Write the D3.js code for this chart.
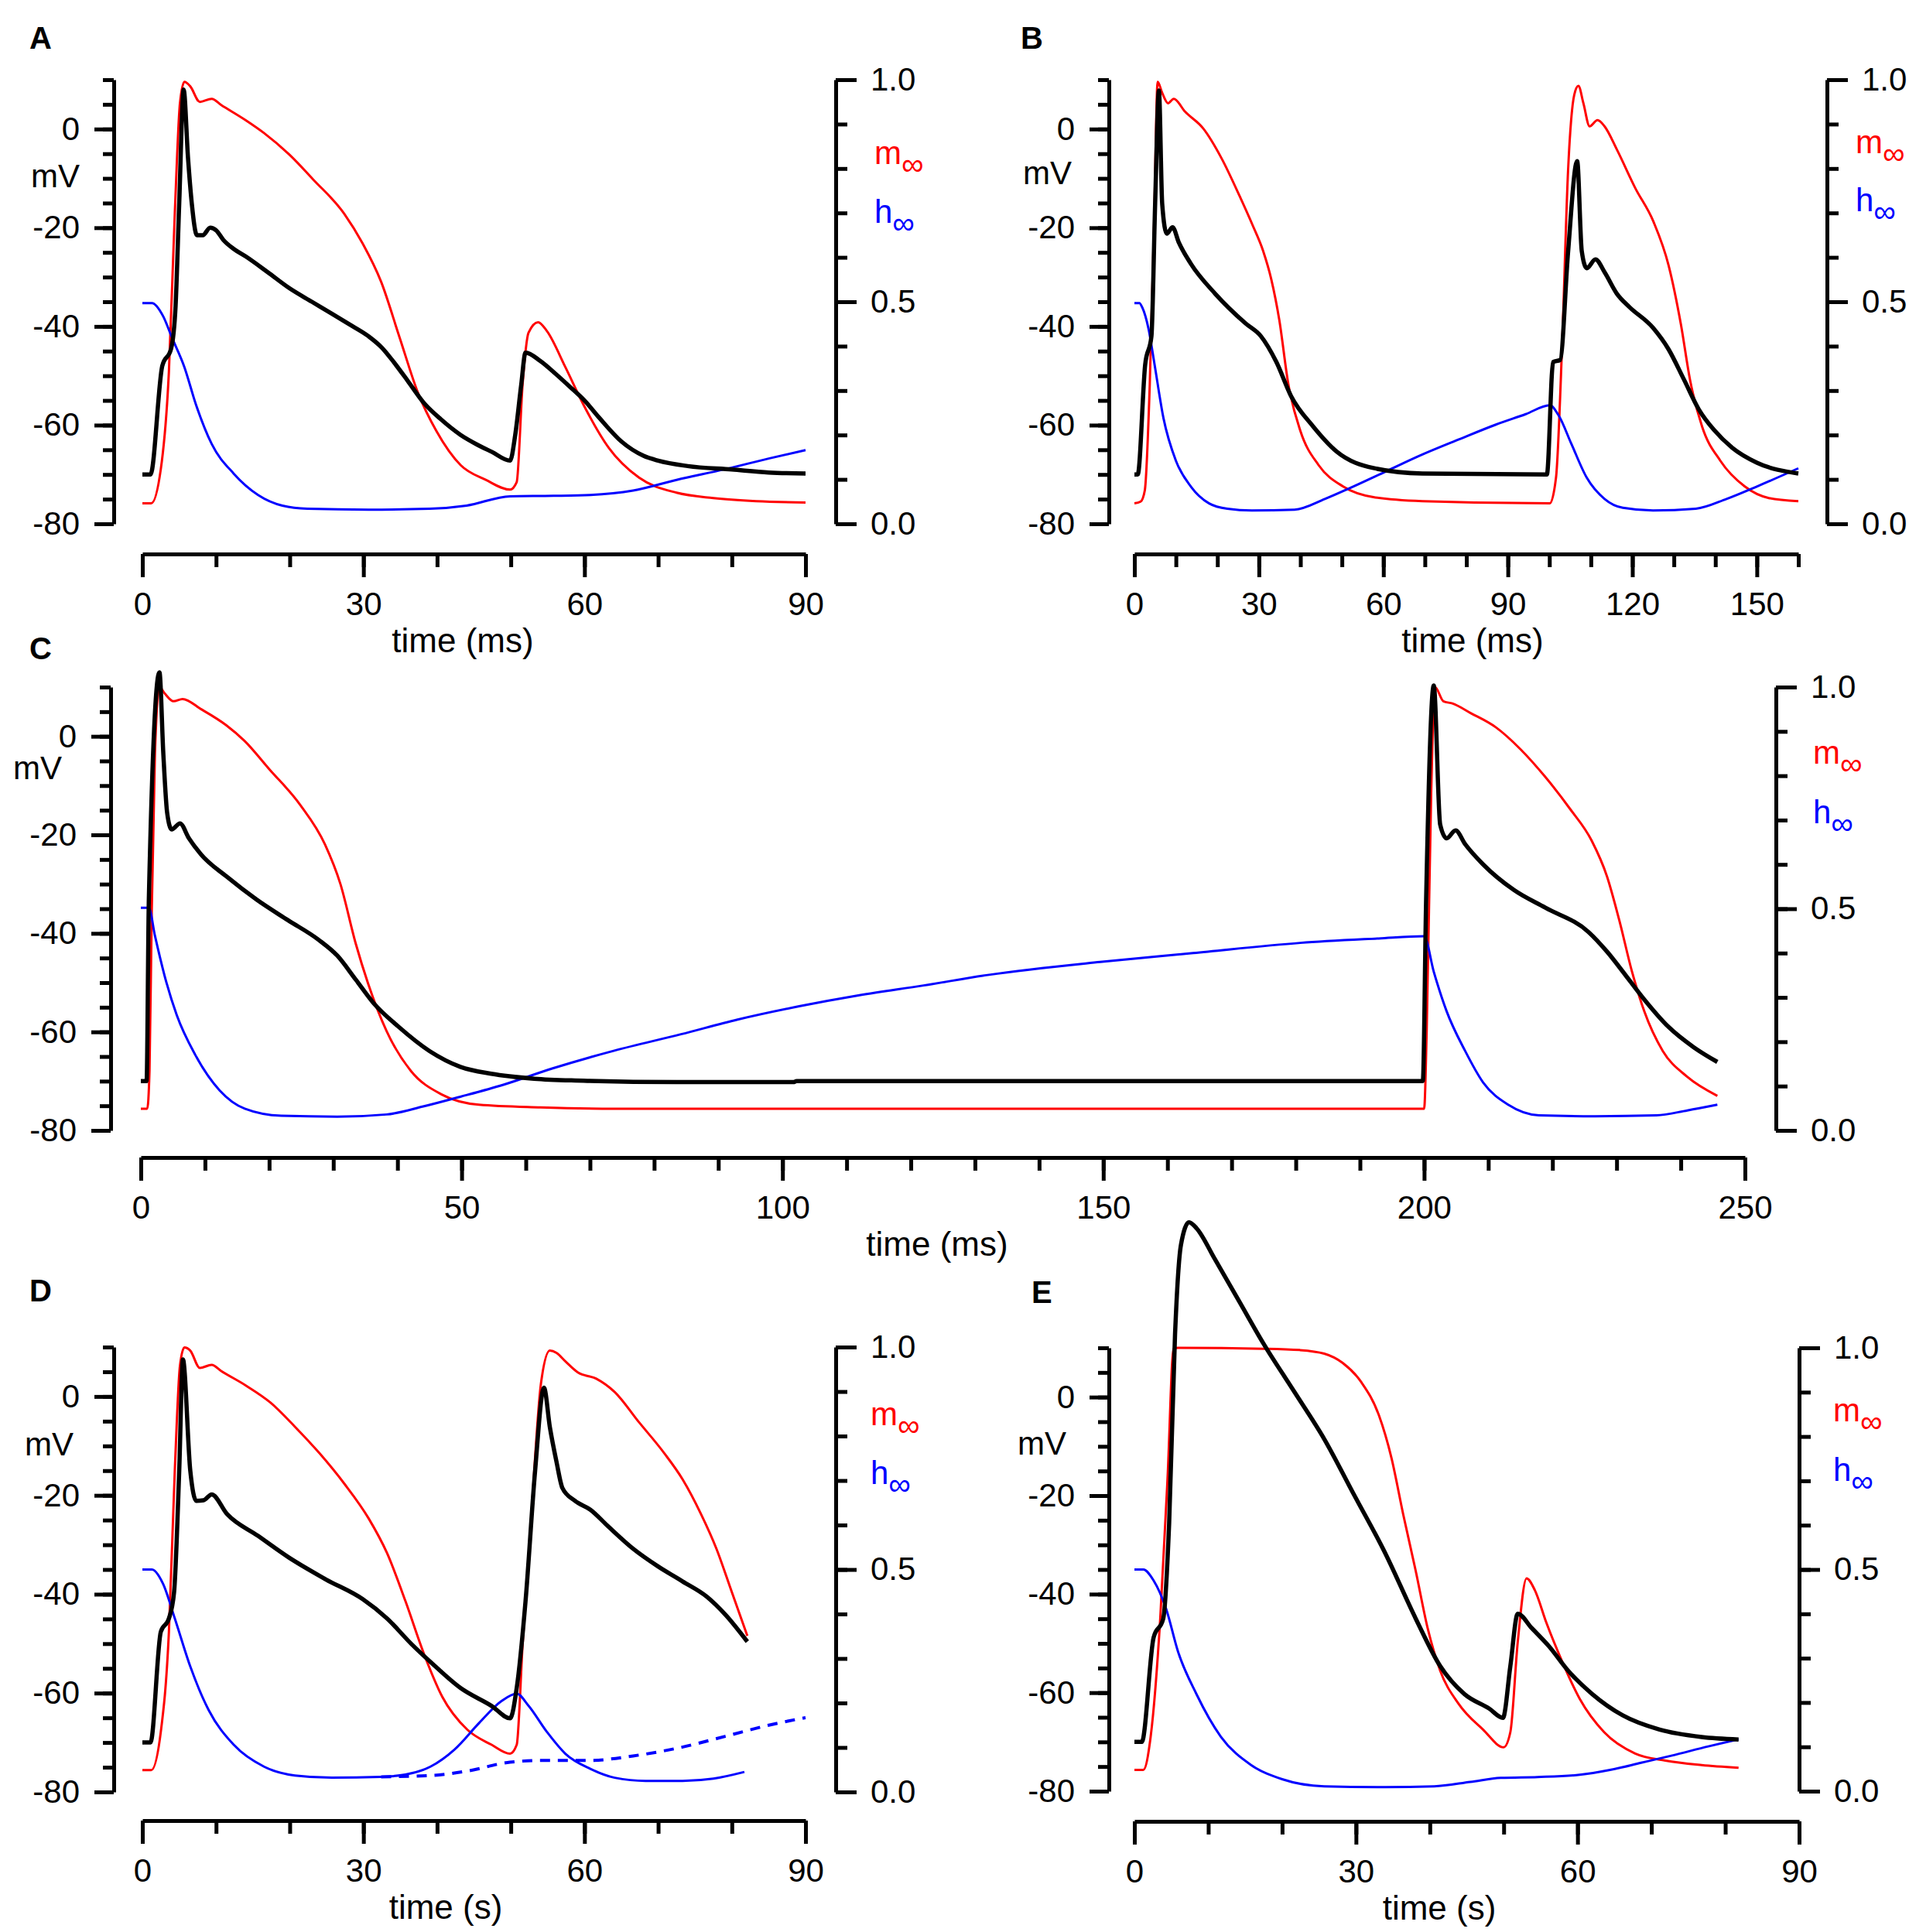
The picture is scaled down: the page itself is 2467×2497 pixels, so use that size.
<!DOCTYPE html>
<html>
<head>
<meta charset="utf-8">
<script src="https://cdnjs.cloudflare.com/ajax/libs/d3/7.8.5/d3.min.js"></script>
<style>
body { margin: 0; background: #fff; }
svg { display: block; font-family: "Liberation Sans", Arial, sans-serif; }
</style>
</head>
<body>
<svg id="fig" width="2467" height="2497"></svg>
<script>
// tick values
const mvMajor = [-80, -60, -40, -20, 0];
const mvMinor = d3.range(-80, 11, 5);
const fracMajor = [0, 0.5, 1.0];
const fracMinor = d3.range(0, 1.01, 0.1);
const tTicksA = [0, 30, 60, 90];
const tTicksB = [0, 30, 60, 90, 120, 150];
const tTicksC = [0, 50, 100, 150, 200, 250];

// panel A: [time, value]
const aV = [[0,-70],[1.1,-70],[2.7,-48],[3.9,-44.5],[4.5,-36],[5.0,-15],[5.6,8],[6.2,-6],[6.7,-15],[7.4,-21.5],[8.2,-21.5],[9.2,-20],[10,-20.5],[11,-22.5],[12.4,-24.3],[14,-25.8],[17,-29],[20,-32.3],[23,-35],[25.7,-37.4],[28,-39.5],[30.7,-42],[32.5,-44.3],[34.1,-47.2],[36,-51],[38.2,-55.5],[40.5,-58.8],[43.2,-62],[45.5,-64],[47.4,-65.4],[49.9,-67.2],[50.6,-62],[51.4,-52],[52,-45.3],[54,-47],[56,-49.5],[58,-52.2],[60,-55],[62,-58.5],[65,-63.3],[68,-66.2],[70,-67.2],[74,-68.3],[80,-69],[85,-69.6],[90,-69.8]];
const aM = [[0,0.046],[1.2,0.046],[2.5,0.123],[3.6,0.343],[4.4,0.70],[5.1,0.947],[5.7,0.995],[6.5,0.985],[7.8,0.95],[9.4,0.957],[10.7,0.943],[14,0.909],[16.5,0.88],[19.9,0.832],[23.2,0.775],[27.4,0.698],[29.9,0.631],[32.4,0.545],[34.9,0.42],[37.4,0.295],[39.9,0.209],[43.2,0.132],[46.6,0.099],[49.9,0.077],[50.8,0.094],[51.6,0.314],[52.4,0.43],[53.7,0.454],[54.9,0.434],[57.4,0.353],[59.9,0.267],[63.3,0.171],[67.4,0.104],[72.5,0.07],[77.5,0.058],[83.3,0.051],[90,0.048]];
const aH = [[0,0.497],[1.3,0.497],[2.8,0.468],[4,0.42],[5.7,0.353],[7.3,0.267],[9.4,0.18],[12.4,0.113],[15.7,0.065],[19,0.041],[22.4,0.034],[30.7,0.032],[39,0.034],[44,0.041],[49.9,0.062],[55.8,0.063],[60.8,0.065],[66.6,0.075],[72.5,0.099],[79.1,0.123],[85,0.147],[90,0.166]];

// panel B
const bV = [[0,-70],[0.8,-70],[2.6,-47.7],[4.1,-42],[5.0,-15],[5.9,7.8],[6.7,-15.2],[7.8,-21.2],[9.2,-19.9],[10.7,-23],[13.6,-27.3],[19.5,-33.4],[26.8,-39.4],[30.5,-42],[34.2,-47.2],[37.8,-54.2],[43,-60.2],[48.8,-65.4],[57.6,-68.7],[69.4,-69.8],[99.4,-70],[100.9,-47.2],[102.6,-46.8],[104.5,-25],[106.7,-6.5],[107.8,-24.7],[109,-28.2],[111.1,-26.4],[113.3,-29],[116.3,-33.4],[119.2,-36],[125,-40.3],[128.7,-44.6],[132.4,-50.7],[136,-56.8],[139.7,-61],[144.1,-64.6],[150,-67.6],[160,-69.8]];
const bM = [[0,0.046],[1.5,0.05],[2.5,0.075],[3.7,0.314],[4.8,0.70],[5.6,0.995],[6.7,0.97],[8.1,0.947],[9.5,0.957],[12.2,0.928],[16.6,0.89],[21,0.823],[25.4,0.737],[28.5,0.672],[31,0.615],[33,0.55],[34.9,0.46],[37.1,0.314],[40,0.209],[44.4,0.132],[50.3,0.084],[57.6,0.06],[69.4,0.051],[100.1,0.046],[101.6,0.104],[103.1,0.41],[104.5,0.794],[106,0.966],[107,0.986],[108.2,0.947],[109.7,0.895],[111.6,0.909],[113.3,0.895],[116.3,0.842],[120.7,0.756],[125.1,0.68],[128.7,0.583],[131.7,0.449],[133.9,0.324],[136.8,0.219],[141.2,0.142],[147.1,0.084],[152.9,0.058],[160,0.051]];
const bH = [[0,0.497],[1.2,0.497],[1.9,0.487],[3.4,0.439],[4.8,0.362],[7,0.238],[10,0.142],[13.6,0.084],[18,0.046],[22.4,0.034],[28.3,0.03],[38.6,0.032],[45.9,0.056],[51.8,0.08],[60.6,0.118],[69.4,0.156],[78.2,0.19],[87,0.223],[94.3,0.247],[100.1,0.267],[102.3,0.243],[105.3,0.18],[109,0.104],[113.3,0.056],[117.7,0.036],[125,0.03],[135.3,0.034],[142.7,0.056],[150,0.084],[160,0.125]];

// panel C
const cV = [[0,-70],[0.9,-70],[1.25,-33],[2.9,13],[3.5,-3.4],[4.1,-15.5],[4.8,-18.9],[6.1,-17.7],[7.5,-20.7],[9.4,-24],[13.3,-28.4],[18.1,-33.2],[22.9,-37.3],[27.7,-41.3],[30.6,-44.5],[33.5,-49.4],[36.3,-54.2],[40.2,-59],[45,-63.9],[49.8,-67.1],[54.6,-68.5],[61.3,-69.5],[69,-69.9],[83.5,-70.2],[101.7,-70.2],[102.2,-70],[199.8,-70],[200.3,-34],[201.5,10.3],[202.5,-17.9],[203.5,-20.7],[204.9,-19.1],[206.4,-21.9],[209.2,-26],[214,-31.2],[218.9,-34.8],[225.6,-39.7],[228.5,-43.7],[231.4,-48.5],[234.3,-53.4],[238.1,-59],[242,-63.1],[245.7,-66.1]];
const cM = [[0,0.049],[1.0,0.049],[1.35,0.134],[1.7,0.493],[2.2,0.851],[2.9,1.0],[3.7,0.986],[5.1,0.968],[6.5,0.973],[9.4,0.95],[13.3,0.914],[16.2,0.878],[20,0.815],[24.8,0.735],[28.7,0.645],[31.1,0.556],[33.5,0.421],[35.4,0.332],[38.3,0.224],[42.1,0.134],[46.9,0.081],[52.7,0.058],[62.3,0.052],[73.8,0.049],[200,0.049],[200.4,0.224],[201.1,0.762],[201.7,1.0],[203,0.968],[204.4,0.963],[207.3,0.941],[211.2,0.909],[215,0.86],[218.9,0.797],[222.7,0.726],[226.1,0.654],[228.5,0.573],[230.4,0.475],[232.4,0.358],[234.3,0.269],[237.2,0.179],[241,0.121],[245.7,0.078]];
const cH = [[0,0.502],[1.25,0.502],[2.2,0.439],[3.7,0.349],[5.6,0.26],[8.5,0.17],[12.3,0.09],[16.2,0.049],[21.9,0.033],[30.6,0.031],[38.3,0.036],[44,0.054],[49.8,0.076],[56.5,0.103],[64.2,0.14],[73.8,0.18],[84.2,0.217],[93,0.25],[102.6,0.28],[112,0.305],[122,0.327],[132.2,0.351],[149.5,0.38],[164,0.40],[180.7,0.423],[192.9,0.433],[200,0.438],[201.5,0.358],[203.5,0.269],[206.4,0.179],[209.2,0.108],[213.1,0.058],[217.9,0.034],[226.6,0.032],[236.2,0.034],[241,0.045],[245.7,0.058]];

// panel D
const dV = [[0,-70],[1.1,-70],[2.5,-47.6],[3.6,-44.9],[4.3,-39.6],[5.0,-15],[5.5,7.5],[6.5,-15],[7.3,-21.1],[8.3,-21],[9.4,-19.8],[11.5,-23.8],[15.7,-28.2],[19.9,-32.6],[24.9,-37],[29.9,-41],[33.2,-44.9],[36.6,-50.2],[39.1,-53.7],[43.2,-59],[47.4,-62.6],[49.9,-65.1],[50.8,-59],[52,-41.4],[53.3,-15],[54.5,1.8],[55.3,-6.2],[56.2,-13.2],[57,-18.5],[58.7,-21.1],[60.8,-22.9],[63.3,-26.4],[66.6,-30.8],[70,-34.4],[73.3,-37.4],[76.6,-40.5],[79.1,-44.1],[82.1,-49.6]];
const dM = [[0,0.049],[1.2,0.049],[2.5,0.135],[3.6,0.36],[4.4,0.723],[5.1,0.958],[5.7,0.999],[6.5,0.992],[7.8,0.953],[9.4,0.96],[10.7,0.946],[14,0.914],[17.4,0.875],[20.7,0.821],[24,0.762],[27.4,0.693],[30.7,0.615],[33.2,0.537],[35.7,0.429],[38.2,0.311],[40.7,0.214],[44.1,0.14],[47.4,0.106],[49.9,0.086],[50.8,0.106],[51.6,0.331],[52.8,0.625],[54.1,0.919],[55.3,0.992],[56.2,0.987],[57.4,0.968],[59.1,0.943],[61.6,0.929],[64.1,0.899],[67.4,0.831],[70.8,0.762],[73.3,0.703],[75.8,0.625],[77.9,0.547],[80,0.449],[82.1,0.351]];
const dH = [[0,0.5],[1.3,0.5],[2.8,0.468],[4.4,0.39],[6.5,0.282],[9,0.184],[12.4,0.106],[16.5,0.057],[20.7,0.037],[25.7,0.032],[32.4,0.034],[35.7,0.039],[39.1,0.057],[42.4,0.096],[45.7,0.155],[48.7,0.204],[50.8,0.221],[52.4,0.194],[54.9,0.135],[57.4,0.086],[60.8,0.052],[64.1,0.032],[68.3,0.025],[73.3,0.025],[77.5,0.03],[81.7,0.045]];
const dHdash = [[32.4,0.034],[39.1,0.037],[44.1,0.047],[49.9,0.067],[54.5,0.071],[60.8,0.071],[66.6,0.081],[72.5,0.098],[79.1,0.125],[85,0.15],[90,0.167]];

// panel E
const eV = [[0,-70],[1,-70],[2.6,-48.8],[3.9,-45],[4.7,-25.7],[5.5,12.7],[6.3,30.9],[7.4,35.5],[8.4,34.3],[10.9,28],[14.2,19.4],[17.5,10.8],[21.6,1.2],[25.7,-8.5],[29.8,-20],[33.9,-31.5],[38.1,-45],[41.4,-54.6],[44.7,-60.3],[48,-63.2],[49.9,-65.1],[50.9,-54.6],[51.9,-44],[53.8,-46.9],[56.2,-50.7],[58.7,-55.5],[62,-60.3],[66.1,-64.6],[71.1,-67.5],[76.8,-69],[81.8,-69.5]];
const eM = [[0,0.048],[1.2,0.048],[2.2,0.123],[3.5,0.39],[4.5,0.71],[5.3,0.998],[5.9,1.0],[17.5,0.998],[22.4,0.995],[25.7,0.987],[28.2,0.966],[30.7,0.923],[33.1,0.848],[34.8,0.752],[36.4,0.624],[38.1,0.496],[39.7,0.368],[41.4,0.272],[43.9,0.197],[47.2,0.139],[50,0.099],[50.9,0.133],[51.9,0.336],[53.1,0.48],[54.2,0.454],[55.8,0.379],[57.9,0.293],[60.3,0.208],[63.6,0.133],[67.8,0.085],[71.9,0.069],[76.8,0.059],[81.8,0.053]];
const eH = [[0,0.5],[1.2,0.5],[2.6,0.475],[4.3,0.411],[5.9,0.315],[8.4,0.219],[11.7,0.123],[15.8,0.059],[20,0.027],[25.7,0.011],[34,0.009],[40.6,0.011],[45.5,0.021],[49.6,0.03],[54.6,0.032],[60.3,0.037],[64.4,0.048],[68.6,0.064],[72.7,0.08],[77.7,0.101],[81.8,0.117]];

const svg = d3.select('#fig');
const FONT = 42;

function tidy(g) {
    g.attr('font-size', null).attr('font-family', null);
    g.select('.domain').attr('stroke', '#000').attr('stroke-width', 5);
    g.selectAll('.tick line').attr('stroke', '#000').attr('stroke-width', 5);
    g.selectAll('.tick text').attr('font-size', FONT).attr('fill', '#000');
}

// plain hyphen for negatives, like the original
const plain = (d) => String(d);

// one panel: layout numbers + its series
function drawPanel(p) {
    const g = svg.append('g');
    const x = d3.scaleLinear().domain([0, p.tMax]).range([p.x0, p.x1]);
    const yV = d3.scaleLinear().domain([-80, 10]).range([p.bottom, p.top]);
    const yF = d3.scaleLinear().domain([0, 1]).range([p.bottom, p.top]);

    // left axis (mV)
    g.append('g').attr('transform', `translate(${p.left},0)`)
    .call(d3.axisLeft(yV).tickValues(mvMinor).tickSize(14).tickFormat('').tickSizeOuter(0))
    .call(tidy).select('.domain').remove();
    g.append('g').attr('transform', `translate(${p.left},0)`)
    .call(d3.axisLeft(yV).tickValues(mvMajor).tickSize(25).tickPadding(19).tickFormat(plain).tickSizeOuter(0))
    .call(tidy);

    // right axis (fraction)
    g.append('g').attr('transform', `translate(${p.right},0)`)
    .call(d3.axisRight(yF).tickValues(fracMinor).tickSize(15).tickFormat('').tickSizeOuter(0))
    .call(tidy).select('.domain').remove();
    g.append('g').attr('transform', `translate(${p.right},0)`)
    .call(d3.axisRight(yF).tickValues(fracMajor).tickSize(27).tickPadding(18)
        .tickFormat((d) => d.toFixed(1)).tickSizeOuter(0))
    .call(tidy);

    // bottom axis (time)
    g.append('g').attr('transform', `translate(0,${p.axisY})`)
    .call(d3.axisBottom(x).tickValues(d3.range(0, p.tMax + 0.1, 10)).tickSize(17).tickFormat('').tickSizeOuter(0))
    .call(tidy).select('.domain').remove();
    g.append('g').attr('transform', `translate(0,${p.axisY})`)
    .call(d3.axisBottom(x).tickValues(p.tTicks).tickSize(30).tickPadding(19).tickFormat(plain).tickSizeOuter(0))
    .call(tidy);

    // traces
    const lineV = d3.line().x((d) => x(d[0])).y((d) => yV(d[1])).curve(d3.curveMonotoneX);
    const lineF = d3.line().x((d) => x(d[0])).y((d) => yF(d[1])).curve(d3.curveMonotoneX);
    g.append('path').datum(p.m).attr('d', lineF)
    .attr('fill', 'none').attr('stroke', '#ff0000').attr('stroke-width', 3);
    g.append('path').datum(p.h).attr('d', lineF)
    .attr('fill', 'none').attr('stroke', '#0000ff').attr('stroke-width', 3);
    if (p.hDash) {
        g.append('path').datum(p.hDash).attr('d', lineF)
        .attr('fill', 'none').attr('stroke', '#0000ff').attr('stroke-width', 4)
        .attr('stroke-dasharray', '13,10');
    }
    g.append('path').datum(p.v).attr('d', lineV)
    .attr('fill', 'none').attr('stroke', '#000').attr('stroke-width', 5.5)
    .attr('stroke-linejoin', 'round');

    // texts
    g.append('text').attr('x', p.letter[1]).attr('y', p.letter[2])
    .attr('font-size', 40).attr('font-weight', 'bold').text(p.letter[0]);
    g.append('text').attr('x', p.mv[0]).attr('y', p.mv[1])
    .attr('text-anchor', 'end').attr('font-size', FONT).text('mV');
    g.append('text').attr('x', p.timeX).attr('y', p.axisY + 127)
    .attr('text-anchor', 'middle').attr('font-size', 44).text(p.timeLabel);

    const lm = g.append('text').attr('x', p.lab[0]).attr('y', p.lab[1])
    .attr('font-size', FONT).attr('fill', '#ff0000');
    lm.append('tspan').text('m');
    lm.append('tspan').attr('dy', 14).attr('font-size', 40).text('\u221e');
    const lh = g.append('text').attr('x', p.lab[0]).attr('y', p.lab[2])
    .attr('font-size', FONT).attr('fill', '#0000ff');
    lh.append('tspan').text('h');
    lh.append('tspan').attr('dy', 14).attr('font-size', 40).text('\u221e');
}

drawPanel({ left: 147, right: 1080, top: 103, bottom: 677, axisY: 716, x0: 184, x1: 1041, tMax: 90,
    tTicks: tTicksA, v: aV, m: aM, h: aH, letter: ['A', 38, 63], mv: [103, 242],
    timeX: 598, timeLabel: 'time (ms)', lab: [1130, 212, 288] });
drawPanel({ left: 1433, right: 2361, top: 103, bottom: 677, axisY: 716, x0: 1466, x1: 2324, tMax: 160,
    tTicks: tTicksB, v: bV, m: bM, h: bH, letter: ['B', 1319, 63], mv: [1385, 238],
    timeX: 1903, timeLabel: 'time (ms)', lab: [2398, 198, 273] });
drawPanel({ left: 143, right: 2295, top: 888, bottom: 1461, axisY: 1496, x0: 182, x1: 2255, tMax: 250,
    tTicks: tTicksC, v: cV, m: cM, h: cH, letter: ['C', 38, 852], mv: [80, 1007],
    timeX: 1211, timeLabel: 'time (ms)', lab: [2343, 987, 1064] });
drawPanel({ left: 147, right: 1080, top: 1741, bottom: 2316, axisY: 2353, x0: 184, x1: 1041, tMax: 90,
    tTicks: tTicksA, v: dV, m: dM, h: dH, hDash: dHdash, letter: ['D', 38, 1682], mv: [95, 1881],
    timeX: 576, timeLabel: 'time (s)', lab: [1125, 1842, 1918] });
drawPanel({ left: 1433, right: 2325, top: 1742, bottom: 2315, axisY: 2354, x0: 1466, x1: 2325, tMax: 90,
    tTicks: tTicksA, v: eV, m: eM, h: eH, letter: ['E', 1333, 1684], mv: [1378, 1880],
    timeX: 1860, timeLabel: 'time (s)', lab: [2369, 1837, 1914] });
</script>
</body>
</html>
